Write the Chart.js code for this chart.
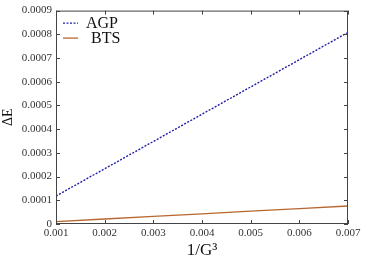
<!DOCTYPE html>
<html>
<head>
<meta charset="utf-8">
<script src="https://cdn.jsdelivr.net/npm/chart.js@4.4.1/dist/chart.umd.min.js"></script>
<style>
  html, body { margin: 0; padding: 0; background: #fff; }
  #wrap { width: 374px; height: 262px; }
</style>
</head>
<body>
<div id="wrap"><canvas id="c" width="374" height="262"></canvas></div>
<script>
// values
var xValues = [0.001, 0.002, 0.003, 0.004, 0.005, 0.006, 0.007];
var agpValues = [0.000118, 0.000233, 0.000348, 0.000463, 0.000578, 0.000693, 0.000808];
var btsValues = [0.000010, 0.000021, 0.000032, 0.000043, 0.000054, 0.000065, 0.000076];
var seriesNames = ['AGP', 'BTS'];

var serif = '"Liberation Serif", "DejaVu Serif", serif';

function pts(xs, ys) {
    return xs.map(function (x, i) { return { x: x, y: ys[i] }; });
}

// inward ticks on all four sides + legend drawn inside the plot
var frame = {
    id: 'frame',
    afterDraw: function (chart) {
        var ctx = chart.ctx, a = chart.chartArea;
        var xs = chart.scales.x, ys = chart.scales.y;
        ctx.save();
        ctx.strokeStyle = '#444';
        ctx.lineWidth = 1;
        ctx.strokeRect(a.left + 0.5, a.top + 0.5, a.right - a.left - 1, a.bottom - a.top - 1);
        ctx.beginPath();
        xs.ticks.forEach(function (t) {
            var px = Math.round(xs.getPixelForValue(t.value)) + 0.5;
            ctx.moveTo(px, a.bottom); ctx.lineTo(px, a.bottom - 4);
            ctx.moveTo(px, a.top); ctx.lineTo(px, a.top + 4);
        });
        ys.ticks.forEach(function (t) {
            var py = Math.round(ys.getPixelForValue(t.value)) + 0.5;
            ctx.moveTo(a.left, py); ctx.lineTo(a.left + 4, py);
            ctx.moveTo(a.right, py); ctx.lineTo(a.right - 4, py);
        });
        ctx.stroke();

        // legend
        ctx.font = '16px ' + serif;
        ctx.fillStyle = '#111';
        ctx.textBaseline = 'middle';
        chart.data.datasets.forEach(function (ds, i) {
            var y = a.top + 12 + i * 15;
            ctx.beginPath();
            ctx.strokeStyle = ds.borderColor;
            ctx.lineWidth = 1.3;
            ctx.setLineDash(ds.borderDash || []);
            ctx.moveTo(a.left + 7, y + 0.5); ctx.lineTo(a.left + 22, y + 0.5);
            ctx.stroke();
            ctx.setLineDash([]);
            ctx.fillText(seriesNames[i], a.left + 30 + (i === 1 ? 5 : 0), y + 1);
        });
        ctx.restore();
    }
};

new Chart(document.getElementById('c').getContext('2d'), {
    type: 'scatter',
    data: {
        datasets: [{
            label: seriesNames[0],
            data: pts(xValues, agpValues),
            showLine: true,
            borderColor: '#1f1fa8',
            borderWidth: 1.4,
            borderDash: [2, 1.5],
            pointRadius: 0
        }, {
            label: seriesNames[1],
            data: pts(xValues, btsValues),
            showLine: true,
            borderColor: '#b8662e',
            borderWidth: 1.3,
            pointRadius: 0
        }]
    },
    options: {
        responsive: false,
        animation: false,
        layout: { padding: { top: 7, right: 26, left: 0, bottom: 0 } },
        plugins: { legend: { display: false }, tooltip: { enabled: false } },
        scales: {
            x: {
                type: 'linear',
                min: 0.001,
                max: 0.007,
                afterFit: function (s) { s.height = 38; },
                grid: { display: false, drawTicks: false },
                border: { display: false },
                ticks: {
                    stepSize: 0.001,
                    padding: 3,
                    color: '#333',
                    font: { family: serif, size: 11 },
                    maxRotation: 0,
                    callback: function (v) { return v.toFixed(3); }
                },
                title: {
                    display: true,
                    text: '1/G³',
                    color: '#111',
                    font: { family: serif, size: 17 },
                    padding: { top: 0, bottom: 1 }
                }
            },
            y: {
                type: 'linear',
                min: 0,
                max: 0.0009,
                afterFit: function (s) { s.width = 56; },
                grid: { display: false, drawTicks: false },
                border: { display: false },
                ticks: {
                    stepSize: 0.0001,
                    padding: 4,
                    color: '#333',
                    font: { family: serif, size: 11 },
                    callback: function (v) { return v === 0 ? '0' : v.toFixed(4); }
                },
                title: {
                    display: true,
                    text: 'ΔE',
                    color: '#111',
                    font: { family: serif, size: 14 },
                    padding: { top: 0, bottom: 2 }
                }
            }
        }
    },
    plugins: [frame]
});
</script>
</body>
</html>
